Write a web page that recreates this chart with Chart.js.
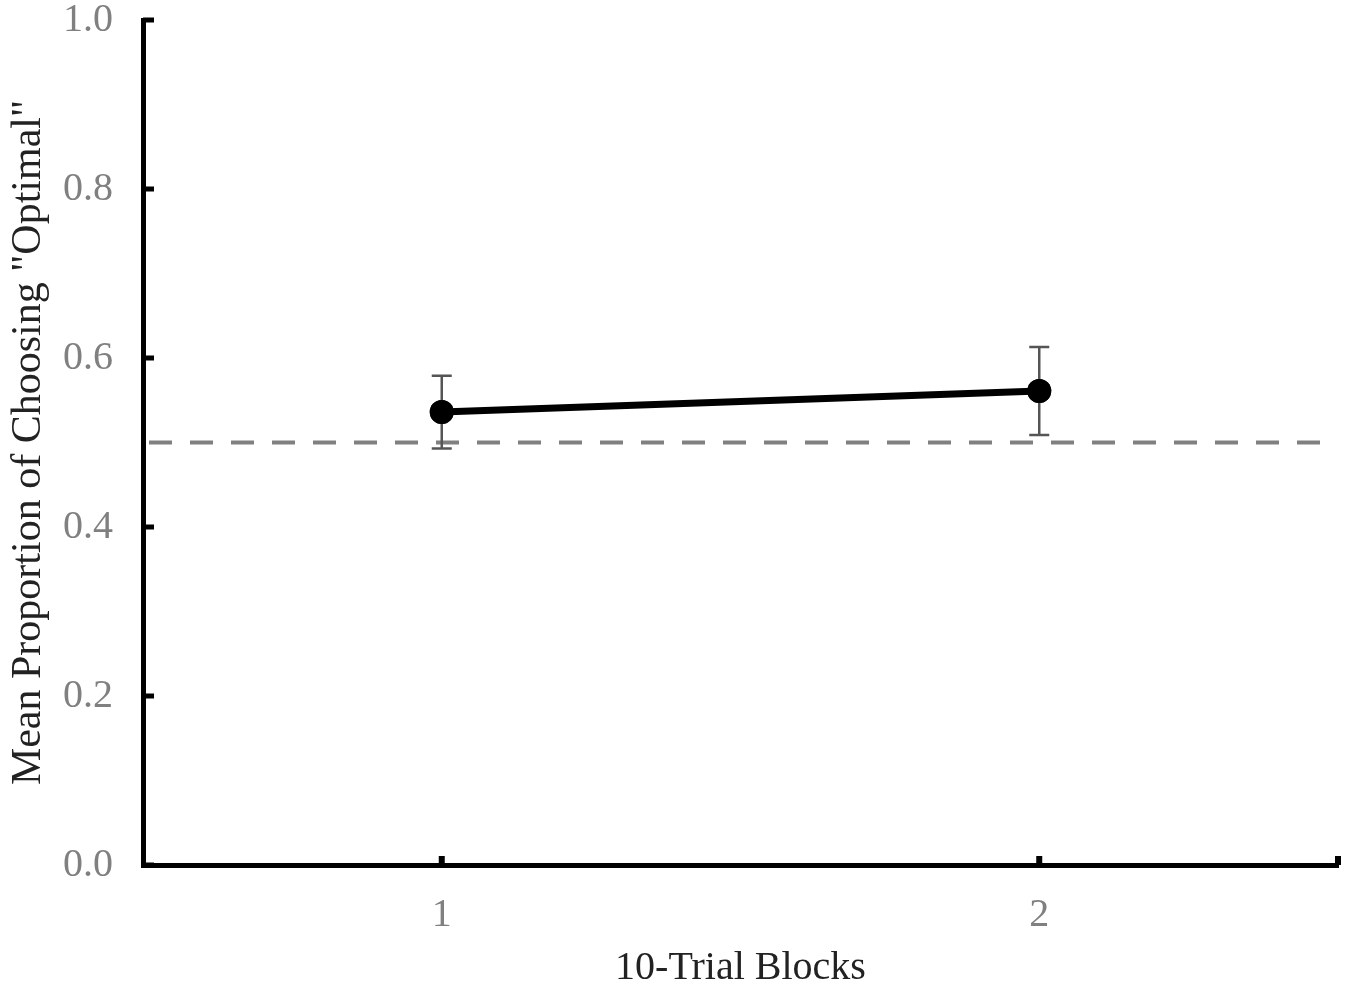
<!DOCTYPE html>
<html>
<head>
<meta charset="utf-8">
<script src="https://cdn.jsdelivr.net/npm/chart.js@4"></script>
<style>
    html, body { margin: 0; padding: 0; background: #fff; }
    #wrap { width: 1351px; height: 985px; }
</style>
</head>
<body>
<div id="wrap"><canvas id="optimalChart"></canvas></div>
<script>
// data
const blocks = [1, 2];
const meanOptimal = [0.536, 0.561];
const errLow = [0.493, 0.509];
const errHigh = [0.579, 0.613];
const chanceLevel = 0.5;
const yTicks = [0, 0.2, 0.4, 0.6, 0.8, 1.0];

const serif = '"Liberation Serif", "Times New Roman", serif';

// error bars + inward tick marks, drawn through the scales
const extras = {
    id: 'extras',
    afterDatasetsDraw(chart) {
        const ctx = chart.ctx;
        const x = chart.scales.x;
        const y = chart.scales.y;
        ctx.save();
        ctx.strokeStyle = '#555';
        ctx.lineWidth = 2.5;
        blocks.forEach((b, i) => {
            const px = x.getPixelForValue(b);
            const top = y.getPixelForValue(errHigh[i]);
            const bot = y.getPixelForValue(errLow[i]);
            ctx.beginPath();
            ctx.moveTo(px, top); ctx.lineTo(px, bot);
            ctx.moveTo(px - 10, top); ctx.lineTo(px + 10, top);
            ctx.moveTo(px - 10, bot); ctx.lineTo(px + 10, bot);
            ctx.stroke();
        });
        // redraw markers above the bars
        const meta = chart.getDatasetMeta(1);
        ctx.fillStyle = '#000';
        meta.data.forEach(pt => {
            ctx.beginPath();
            ctx.arc(pt.x, pt.y, 12, 0, Math.PI * 2);
            ctx.fill();
        });
        ctx.restore();
    },
    afterDraw(chart) {
        const ctx = chart.ctx;
        const x = chart.scales.x;
        const y = chart.scales.y;
        const area = chart.chartArea;
        ctx.save();
        ctx.fillStyle = '#000';
        yTicks.forEach(v => {
            const py = y.getPixelForValue(v);
            ctx.fillRect(area.left, py - 2.5, 11, 5);
        });
        blocks.concat([x.max]).forEach(v => {
            const px = x.getPixelForValue(v);
            ctx.fillRect(px - 3, area.bottom - 9, 6, 9);
        });
        ctx.restore();
    }
};

new Chart(document.getElementById('optimalChart'), {
    type: 'line',
    data: {
        datasets: [{
            label: 'Chance',
            data: [{ x: 0.5, y: chanceLevel }, { x: 2.5, y: chanceLevel }],
            borderColor: '#808080',
            borderWidth: 4,
            borderDash: [23, 18],
            borderDashOffset: -6,
            pointRadius: 0,
            order: 2
        }, {
            label: 'Mean',
            data: blocks.map((b, i) => ({ x: b, y: meanOptimal[i] })),
            borderColor: '#000',
            borderWidth: 7,
            pointRadius: 12,
            pointBackgroundColor: '#000',
            pointBorderWidth: 0,
            order: 1
        }]
    },
    plugins: [extras],
    options: {
        responsive: true,
        maintainAspectRatio: false,
        animation: false,
        layout: { padding: { top: 20, right: 13, left: 0, bottom: 0 } },
        plugins: {
            legend: { display: false },
            tooltip: { enabled: false }
        },
        scales: {
            x: {
                type: 'linear',
                min: 0.5,
                max: 2.5,
                afterBuildTicks: s => { s.ticks = blocks.map(v => ({ value: v })); },
                afterFit: s => { s.height = 120; s.paddingLeft = 0; s.paddingRight = 0; },
                grid: { display: false, drawTicks: false },
                border: { display: true, color: '#000', width: 5 },
                ticks: {
                    color: '#808080',
                    padding: 26,
                    font: { family: serif, size: 40 }
                },
                title: {
                    display: true,
                    text: '10-Trial Blocks',
                    color: '#222',
                    padding: { top: 4, bottom: 0 },
                    font: { family: serif, size: 40, lineHeight: 0.85 }
                }
            },
            y: {
                min: 0,
                max: 1,
                afterBuildTicks: s => { s.ticks = yTicks.map(v => ({ value: v })); },
                afterFit: s => { s.width = 143; s.paddingTop = 0; s.paddingBottom = 0; },
                grid: { display: false, drawTicks: false },
                border: { display: true, color: '#000', width: 5 },
                ticks: {
                    color: '#808080',
                    padding: 30,
                    callback: v => v.toFixed(1),
                    font: { family: serif, size: 40 }
                },
                title: {
                    display: true,
                    text: 'Mean Proportion of Choosing "Optimal"',
                    color: '#222',
                    padding: { bottom: 0 },
                    font: { family: serif, size: 42 }
                }
            }
        }
    }
});
</script>
</body>
</html>
